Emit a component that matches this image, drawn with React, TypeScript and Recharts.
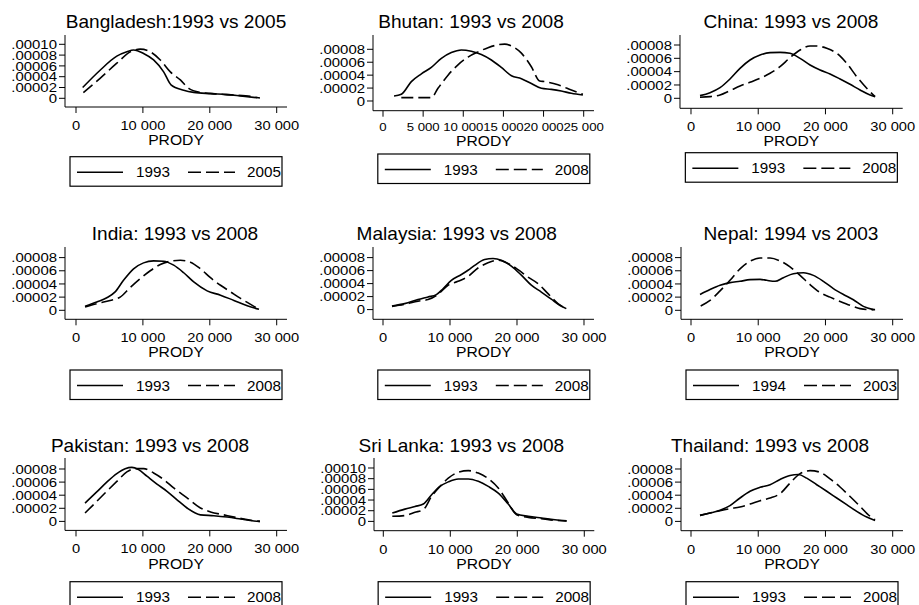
import React from "react";
import { LineChart, Line, XAxis, YAxis } from "recharts";

// ---------- DATA (x = PRODY, y = density) ----------
const bangladesh1993: [number, number][] = [[1000,2.0e-5],[3600,5.2e-5],[6100,7.8e-5],[7600,8.6e-5],[8600,8.95e-5],[10100,8.3e-5],[11600,7.1e-5],[13100,4.9e-5],[14200,2.5e-5],[16100,1.5e-5],[17600,1.1e-5],[20100,0.86e-5],[22600,0.68e-5],[24600,0.43e-5],[27100,0.1e-5]];
const bangladesh2005: [number, number][] = [[1100,1.05e-5],[3600,3.7e-5],[6100,6.5e-5],[8100,8.6e-5],[9600,9.1e-5],[11100,8.6e-5],[12600,7.1e-5],[14100,4.9e-5],[15600,3.4e-5],[16850,1.85e-5],[18600,1.1e-5],[21100,0.8e-5],[23600,0.6e-5],[26100,0.35e-5],[27500,0.05e-5]];
const bhutan1993: [number, number][] = [[1370,0.77e-5],[2280,1.03e-5],[3530,3.0e-5],[4780,4.2e-5],[6020,5.2e-5],[7270,6.6e-5],[8510,7.5e-5],[9760,7.9e-5],[11000,7.7e-5],[12250,7.2e-5],[13500,6.35e-5],[14740,5.2e-5],[16000,3.9e-5],[17240,3.46e-5],[18480,2.7e-5],[19730,1.96e-5],[20970,1.8e-5],[22200,1.55e-5],[23460,1.19e-5],[24900,0.93e-5]];
const bhutan2008: [number, number][] = [[2280,0.52e-5],[6020,0.52e-5],[6850,1.96e-5],[8100,4.0e-5],[9340,5.6e-5],[10590,6.8e-5],[11840,7.6e-5],[13080,8.25e-5],[14330,8.7e-5],[15160,8.8e-5],[16000,8.5e-5],[17240,7.4e-5],[18480,5.3e-5],[19520,3.1e-5],[20140,3.0e-5],[21800,2.5e-5],[23460,1.7e-5],[24900,1.03e-5]];
const china1993: [number, number][] = [[1340,0.4e-5],[2830,0.85e-5],[4320,1.6e-5],[5800,2.9e-5],[7290,4.5e-5],[8780,5.75e-5],[10270,6.5e-5],[11760,6.85e-5],[13240,6.9e-5],[14730,6.75e-5],[16220,6.0e-5],[17710,5.0e-5],[19200,4.25e-5],[20680,3.65e-5],[22170,2.9e-5],[23660,2.1e-5],[25150,1.25e-5],[26640,0.5e-5],[27380,0.25e-5]];
const china2008: [number, number][] = [[1340,0.15e-5],[2830,0.25e-5],[4320,0.5e-5],[5800,1.15e-5],[7290,1.85e-5],[8780,2.4e-5],[10270,3.0e-5],[11760,3.75e-5],[13240,4.75e-5],[14730,6.1e-5],[16220,7.25e-5],[17710,7.85e-5],[18700,7.85e-5],[20190,7.5e-5],[21680,6.75e-5],[23160,5.25e-5],[24650,3.25e-5],[26140,1.5e-5],[27380,0.25e-5]];
const india1993: [number, number][] = [[1350,0.6e-5],[3100,1.26e-5],[4600,1.9e-5],[5850,2.8e-5],[7100,4.55e-5],[8600,6.3e-5],[10100,7.2e-5],[11600,7.5e-5],[13100,7.45e-5],[14600,6.85e-5],[16100,5.7e-5],[17600,4.3e-5],[19600,2.95e-5],[21600,2.3e-5],[23600,1.5e-5],[25600,0.7e-5],[27350,0.15e-5]];
const india2008: [number, number][] = [[1350,0.5e-5],[3100,1.0e-5],[5100,1.5e-5],[6600,2.0e-5],[8100,3.45e-5],[9600,4.8e-5],[11100,6.0e-5],[12600,6.95e-5],[14100,7.45e-5],[15600,7.6e-5],[17100,7.3e-5],[18600,6.3e-5],[20100,4.95e-5],[21600,3.8e-5],[23100,2.8e-5],[24600,1.8e-5],[26100,0.9e-5],[27350,0.15e-5]];
const malaysia1993: [number, number][] = [[1340,0.56e-5],[3230,0.92e-5],[5220,1.54e-5],[6720,1.95e-5],[7960,2.3e-5],[8960,3.2e-5],[10200,4.5e-5],[11700,5.4e-5],[12690,6.05e-5],[13680,6.8e-5],[15170,7.7e-5],[16420,7.85e-5],[17660,7.6e-5],[19150,6.7e-5],[20650,5.3e-5],[22140,3.75e-5],[23630,2.7e-5],[25120,1.6e-5],[26370,0.67e-5],[27360,0.15e-5]];
const malaysia2008: [number, number][] = [[1340,0.5e-5],[3230,0.82e-5],[5220,1.3e-5],[6720,1.54e-5],[8210,2.35e-5],[9700,3.75e-5],[11190,4.35e-5],[12690,5.1e-5],[14180,6.4e-5],[15670,7.2e-5],[17160,7.6e-5],[18650,7.1e-5],[20150,6.15e-5],[21640,5.0e-5],[23130,4.0e-5],[24630,2.45e-5],[26120,0.92e-5],[27110,0.25e-5]];
const nepal1994: [number, number][] = [[1340,2.4e-5],[2830,3.15e-5],[4320,3.8e-5],[5800,4.2e-5],[7290,4.4e-5],[8780,4.65e-5],[10270,4.7e-5],[11260,4.55e-5],[12500,4.4e-5],[13740,4.95e-5],[15230,5.55e-5],[16720,5.7e-5],[18200,5.3e-5],[19690,4.4e-5],[21180,3.3e-5],[22670,2.4e-5],[24150,1.6e-5],[25640,0.6e-5],[27130,0.1e-5]];
const nepal2003: [number, number][] = [[1440,0.65e-5],[2830,1.5e-5],[4320,2.95e-5],[5800,4.55e-5],[7290,6.3e-5],[8780,7.45e-5],[10270,7.95e-5],[11760,7.95e-5],[13240,7.5e-5],[14730,6.6e-5],[16220,5.3e-5],[17710,3.9e-5],[19200,2.7e-5],[20680,2.0e-5],[22170,1.35e-5],[23660,0.75e-5],[25150,0.25e-5],[26640,0.1e-5],[27380,0.1e-5]];
const pakistan1993: [number, number][] = [[1350,2.8e-5],[3100,4.5e-5],[4600,6.0e-5],[6100,7.3e-5],[7350,8.05e-5],[8350,8.25e-5],[9350,7.9e-5],[10600,6.9e-5],[12100,5.7e-5],[13600,4.6e-5],[15100,3.3e-5],[16600,2.05e-5],[18600,1.0e-5],[20600,0.87e-5],[22600,0.66e-5],[24600,0.36e-5],[26600,0.05e-5],[27500,0]];
const pakistan2008: [number, number][] = [[1350,1.28e-5],[3100,3.05e-5],[4600,4.6e-5],[6100,6.1e-5],[7600,7.55e-5],[8850,8.05e-5],[10100,8.05e-5],[11600,7.4e-5],[13100,6.4e-5],[14600,5.1e-5],[16600,3.6e-5],[18600,2.05e-5],[20100,1.45e-5],[22100,1.0e-5],[24600,0.46e-5],[26600,0.1e-5],[27500,0]];
const srilanka1993: [number, number][] = [[1340,1.56e-5],[3230,2.3e-5],[4730,2.8e-5],[5970,3.25e-5],[7210,5.0e-5],[8460,6.55e-5],[9700,7.4e-5],[11190,7.95e-5],[12690,7.95e-5],[14180,7.5e-5],[15670,6.55e-5],[17160,5.3e-5],[18650,3.25e-5],[19900,1.4e-5],[21640,0.95e-5],[23630,0.62e-5],[25620,0.3e-5],[27360,0.1e-5]];
const srilanka2008: [number, number][] = [[1340,0.95e-5],[3230,1.1e-5],[4730,1.7e-5],[5970,2.2e-5],[7210,4.7e-5],[8460,6.55e-5],[9700,8.1e-5],[11190,9.2e-5],[12690,9.5e-5],[14180,9.05e-5],[15670,8.0e-5],[17160,6.25e-5],[18650,3.45e-5],[19900,1.25e-5],[21640,0.75e-5],[23630,0.5e-5],[25620,0.2e-5],[27360,0.06e-5]];
const thailand1993: [number, number][] = [[1340,0.92e-5],[2830,1.28e-5],[4320,1.7e-5],[5800,2.4e-5],[7290,3.57e-5],[8780,4.6e-5],[10270,5.2e-5],[11760,5.6e-5],[13240,6.4e-5],[14730,7.0e-5],[15970,7.15e-5],[17210,6.6e-5],[18700,5.6e-5],[20190,4.6e-5],[21680,3.57e-5],[23160,2.55e-5],[24650,1.53e-5],[26140,0.66e-5],[27380,0.15e-5]];
const thailand2008: [number, number][] = [[1340,0.92e-5],[2830,1.28e-5],[4320,1.63e-5],[5800,1.94e-5],[7290,2.2e-5],[8780,2.65e-5],[10270,3.16e-5],[11760,3.57e-5],[13240,4.23e-5],[14730,5.85e-5],[16220,7.3e-5],[17710,7.75e-5],[19200,7.5e-5],[20680,6.5e-5],[22170,5.25e-5],[23660,3.8e-5],[25150,2.3e-5],[26640,0.77e-5],[27380,0.26e-5]];

const titles = [
  "Bangladesh:1993 vs 2005", "Bhutan: 1993 vs 2008", "China: 1993 vs 2008",
  "India: 1993 vs 2008", "Malaysia: 1993 vs 2008", "Nepal: 1994 vs 2003",
  "Pakistan: 1993 vs 2008", "Sri Lanka: 1993 vs 2008", "Thailand: 1993 vs 2008",
];
const legendYears = [
  ["1993", "2005"], ["1993", "2008"], ["1993", "2008"],
  ["1993", "2008"], ["1993", "2008"], ["1994", "2003"],
  ["1993", "2008"], ["1993", "2008"], ["1993", "2008"],
];
const seriesA = [bangladesh1993, bhutan1993, china1993, india1993, malaysia1993, nepal1994, pakistan1993, srilanka1993, thailand1993];
const seriesB = [bangladesh2005, bhutan2008, china2008, india2008, malaysia2008, nepal2003, pakistan2008, srilanka2008, thailand2008];

const xTicksStd = [0, 10000, 20000, 30000];
const xTicksFine = [0, 5000, 10000, 15000, 20000, 25000];
const yTicks8 = [0, 0.00002, 0.00004, 0.00006, 0.00008];
const yTicks10 = [0, 0.00002, 0.00004, 0.00006, 0.00008, 0.0001];
const xTicksPerPanel = [xTicksStd, xTicksFine, xTicksStd, xTicksStd, xTicksStd, xTicksStd, xTicksStd, xTicksStd, xTicksStd];
const yTicksPerPanel = [yTicks10, yTicks8, yTicks8, yTicks8, yTicks8, yTicks8, yTicks8, yTicks10, yTicks8];

// ---------- LAYOUT (pixels) ----------
const layout = [
  { ax: 65, ar: 287, at: 35, ab: 107, x0: 76, xr: 276.7, xrv: 30000, y0: 98.3, yr: 44.3, yrv: 0.0001, tx: 176, ty: 28.3, lt: 156.7 },
  { ax: 373.3, ar: 594.3, at: 35, ab: 110.7, x0: 383.3, xr: 584, xrv: 25000, y0: 101, yr: 49.3, yrv: 0.00008, tx: 471, ty: 28.3, lt: 154, small: true },
  { ax: 680, ar: 902.7, at: 35, ab: 108.3, x0: 691, xr: 892.7, xrv: 30000, y0: 98.3, yr: 45, yrv: 0.00008, tx: 791, ty: 28.3, lt: 152.7 },
  { ax: 65, ar: 287, at: 246.7, ab: 319, x0: 76, xr: 276.7, xrv: 30000, y0: 310, yr: 257.3, yrv: 0.00008, tx: 175, ty: 240, lt: 370 },
  { ax: 373.3, ar: 594.3, at: 246.7, ab: 319, x0: 383.3, xr: 584.3, xrv: 30000, y0: 309.3, yr: 257.3, yrv: 0.00008, tx: 456.7, ty: 240, lt: 370 },
  { ax: 681, ar: 903, at: 246.7, ab: 319, x0: 691, xr: 892.7, xrv: 30000, y0: 310, yr: 257.3, yrv: 0.00008, tx: 791, ty: 240, lt: 370 },
  { ax: 65, ar: 287, at: 458.3, ab: 530.7, x0: 76, xr: 276.7, xrv: 30000, y0: 521.7, yr: 469.3, yrv: 0.00008, tx: 150, ty: 451.7, lt: 581.7 },
  { ax: 374, ar: 594.3, at: 458.3, ab: 531, x0: 383.3, xr: 584.3, xrv: 30000, y0: 521.7, yr: 468.3, yrv: 0.0001, tx: 461.3, ty: 451.7, lt: 581.7 },
  { ax: 681, ar: 903, at: 458.3, ab: 531, x0: 691, xr: 892.7, xrv: 30000, y0: 521.7, yr: 469.3, yrv: 0.00008, tx: 770, ty: 451.7, lt: 581.7 },
];

const FONT = '"Liberation Sans", Arial, Helvetica, sans-serif';
const DASH = "12 5";

const fmtX = (v: number) =>
  v === 0 ? "0" : `${Math.floor(v / 1000)} ${String(v % 1000).padStart(3, "0")}`;
const fmtY = (v: number) => (v === 0 ? "0" : v.toFixed(5).replace(/^0/, ""));

const toRows = (arr: [number, number][]) => arr.map(([x, y]) => ({ x, y }));

function Panel({ i }: { i: number }) {
  const g: any = layout[i];
  const xs = (g.xr - g.x0) / g.xrv;
  const xDomain = [(g.ax - g.x0) / xs, (g.ar - g.x0) / xs];
  const ys = (g.y0 - g.yr) / g.yrv;
  const yDomain = [-(g.ab - g.y0) / ys, (g.y0 - g.at) / ys];
  const YW = 62, MT = 5, MR = 28, XH = 40;
  const width = g.ar - g.ax + YW + MR;
  const height = g.ab - g.at + MT + XH;
  const small = !!g.small;

  const xTick = (p: any) => (
    <text
      transform={`translate(${p.x},${p.y + (small ? 14 : 17)}) scale(${small ? 1.2 : 1.13},1)`}
      textAnchor="middle"
      fontSize={small ? 11 : 13}
      fontFamily={FONT}
      fill="#000"
    >
      {fmtX(p.payload.value)}
    </text>
  );
  const yTick = (p: any) => (
    <text
      transform={`translate(${p.x},${p.y}) scale(1.15,1)`}
      textAnchor="end"
      dy="0.36em"
      fontSize={13}
      fontFamily={FONT}
      fill="#000"
    >
      {fmtY(p.payload.value)}
    </text>
  );

  return (
    <div style={{ position: "absolute", left: g.ax - YW, top: g.at - MT }}>
      <LineChart width={width} height={height} margin={{ top: MT, right: MR, left: 0, bottom: 0 }}>
        <XAxis
          dataKey="x"
          type="number"
          domain={xDomain}
          ticks={xTicksPerPanel[i]}
          allowDataOverflow
          interval={0}
          height={XH}
          tickSize={6}
          tickMargin={0}
          stroke="#000"
          tick={xTick}
        />
        <YAxis
          type="number"
          domain={yDomain}
          ticks={yTicksPerPanel[i]}
          allowDataOverflow
          interval={0}
          width={YW}
          tickSize={6}
          tickMargin={2}
          stroke="#000"
          tick={yTick}
        />
        <Line
          data={toRows(seriesA[i])}
          dataKey="y"
          type="monotone"
          stroke="#000"
          strokeWidth={1.6}
          dot={false}
          isAnimationActive={false}
          name={legendYears[i][0]}
        />
        <Line
          data={toRows(seriesB[i])}
          dataKey="y"
          type="monotone"
          stroke="#000"
          strokeWidth={1.6}
          strokeDasharray={DASH}
          dot={false}
          isAnimationActive={false}
          name={legendYears[i][1]}
        />
      </LineChart>
    </div>
  );
}

function Overlay() {
  return (
    <svg
      width={919}
      height={605}
      style={{ position: "absolute", left: 0, top: 0, pointerEvents: "none" }}
    >
      {layout.map((g: any, i) => {
        const cx = (g.ax + g.ar) / 2;
        const lx = cx - 106;
        const ly = g.lt;
        return (
          <g key={i} fontFamily={FONT} fill="#000">
            <text transform={`translate(${g.tx},${g.ty}) scale(1.06,1)`} textAnchor="middle" fontSize={18}>
              {titles[i]}
            </text>
            <text
              transform={`translate(${cx},${g.ab + (g.small ? 35 : 38)}) scale(1.12,1)`}
              textAnchor="middle"
              fontSize={14}
            >
              PRODY
            </text>
            <rect x={lx} y={ly} width={212} height={29.5} fill="#fff" stroke="#000" strokeWidth={1.2} />
            <line x1={lx + 7} x2={lx + 53} y1={ly + 15.5} y2={ly + 15.5} stroke="#000" strokeWidth={1.5} />
            <text transform={`translate(${lx + 66},${ly + 20.5}) scale(1.09,1)`} fontSize={14}>
              {legendYears[i][0]}
            </text>
            <line
              x1={lx + 118}
              x2={lx + 165}
              y1={ly + 15.5}
              y2={ly + 15.5}
              stroke="#000"
              strokeWidth={1.5}
              strokeDasharray="13 5"
            />
            <text transform={`translate(${lx + 177},${ly + 20.5}) scale(1.09,1)`} fontSize={14}>
              {legendYears[i][1]}
            </text>
          </g>
        );
      })}
    </svg>
  );
}

export default function App() {
  return (
    <div
      style={{
        position: "absolute",
        left: 0,
        top: 0,
        width: 919,
        height: 605,
        overflow: "hidden",
        background: "#fff",
      }}
    >
      {layout.map((_, i) => (
        <Panel key={i} i={i} />
      ))}
      <Overlay />
    </div>
  );
}
